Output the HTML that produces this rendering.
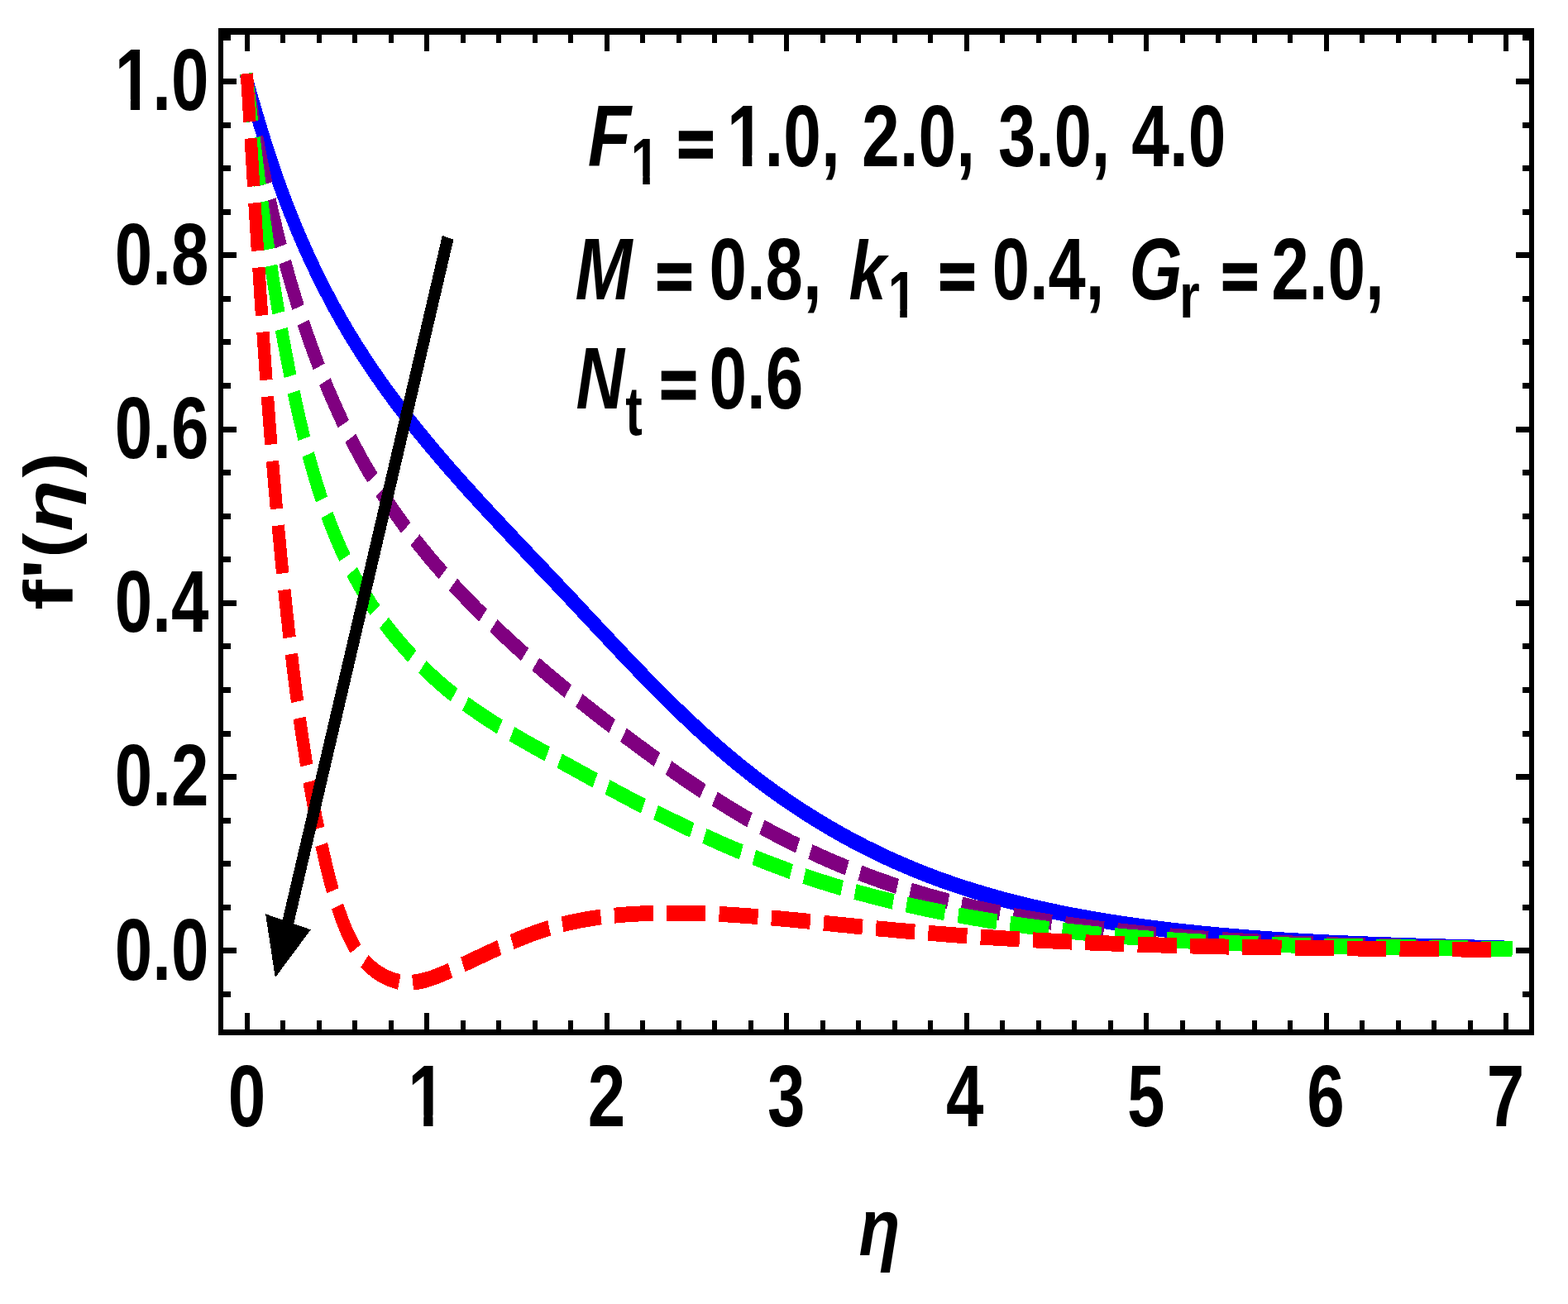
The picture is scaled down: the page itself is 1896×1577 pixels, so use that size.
<!DOCTYPE html>
<html lang="en">
<head>
<meta charset="utf-8">
<title>f'(η) versus η</title>
<style>
html,body{margin:0;padding:0;background:#fff}
body{width:1896px;height:1577px;overflow:hidden}
svg{display:block}
text{font-family:"Liberation Sans", sans-serif;font-weight:bold;fill:#000;font-kerning:none;white-space:pre}
.i{font-style:italic}
</style>
</head>
<body>
<svg width="1896" height="1577" viewBox="0 0 1896 1577">
<rect width="1896" height="1577" fill="#fff"/>
<g transform="scale(0.809,1)" fill="none" stroke-linejoin="round" shape-rendering="crispEdges">
<path d="M369.6,98.5 371.5,104 373.4,109.4 375.3,114.9 377.2,120.3 379.2,125.8 381.1,131.2 383.1,136.6 385.1,142.1 387.1,147.5 389.1,152.9 391.2,158.3 393.2,163.7 395.3,169.1 397.4,174.4 399.5,179.8 401.7,185.2 403.8,190.5 406,195.9 408.2,201.2 410.5,206.5 412.7,211.8 415,217.1 417.3,222.4 419.7,227.7 422.1,233 424.5,238.2 426.9,243.5 429.4,248.7 431.9,254 434.5,259.2 437.1,264.4 439.7,269.6 442.3,274.7 445,279.9 447.7,285 450.4,290.2 453.2,295.3 455.9,300.4 458.8,305.4 461.6,310.5 464.5,315.6 467.4,320.6 470.4,325.6 473.3,330.6 476.4,335.5 479.4,340.5 482.5,345.4 485.6,350.3 488.7,355.2 491.8,360.1 495,364.9 498.2,369.8 501.5,374.6 504.8,379.4 508.1,384.1 511.4,388.8 514.8,393.5 518.2,398.2 521.6,402.9 525.1,407.5 528.5,412.1 532.1,416.7 535.6,421.3 539.2,425.8 542.8,430.3 546.4,434.8 550,439.2 553.7,443.7 557.4,448.1 561.1,452.5 564.9,456.9 568.6,461.2 572.4,465.6 576.2,469.9 580.1,474.2 584,478.4 587.8,482.7 591.7,486.9 595.7,491.2 599.6,495.3 603.6,499.5 607.6,503.7 611.6,507.8 615.6,512 619.7,516.1 623.7,520.2 627.8,524.3 631.9,528.3 636,532.4 640.1,536.4 644.3,540.5 648.5,544.5 652.6,548.5 656.8,552.4 661,556.4 665.2,560.4 669.5,564.3 673.7,568.3 678,572.2 682.3,576.1 686.5,580 690.8,583.9 695.1,587.8 699.4,591.7 703.8,595.5 708.1,599.4 712.4,603.2 716.8,607.1 721.2,610.9 725.5,614.8 729.9,618.6 734.3,622.4 738.7,626.2 743.1,630 747.5,633.8 751.9,637.6 756.3,641.4 760.7,645.2 765.1,649 769.5,652.8 773.9,656.5 778.4,660.3 782.8,664.1 787.2,667.9 791.6,671.6 796.1,675.4 800.5,679.2 804.9,683 809.4,686.7 813.8,690.5 818.2,694.3 822.7,698 827.1,701.8 831.5,705.6 835.9,709.4 840.3,713.1 844.7,716.9 849.2,720.7 853.6,724.5 858,728.3 862.4,732.1 866.7,735.9 871.1,739.7 875.5,743.5 879.9,747.3 884.3,751.1 888.7,754.9 893.1,758.7 897.5,762.5 901.9,766.3 906.3,770 910.7,773.8 915.1,777.6 919.4,781.4 923.8,785.1 928.3,788.9 932.7,792.7 937.1,796.4 941.5,800.2 945.9,803.9 950.3,807.6 954.8,811.3 959.2,815 963.6,818.8 968.1,822.4 972.5,826.1 977,829.8 981.5,833.5 985.9,837.1 990.4,840.7 994.9,844.4 999.4,848 1003.9,851.6 1008.5,855.2 1013,858.7 1017.6,862.3 1022.1,865.8 1026.7,869.3 1031.3,872.9 1035.9,876.3 1040.5,879.8 1045.1,883.3 1049.7,886.7 1054.4,890.1 1059,893.5 1063.7,896.9 1068.4,900.3 1073.1,903.6 1077.8,906.9 1082.6,910.2 1087.3,913.5 1092.1,916.7 1096.9,920 1101.7,923.2 1106.5,926.3 1111.4,929.5 1116.2,932.6 1121.1,935.7 1126,938.8 1130.9,941.9 1135.9,944.9 1140.8,947.9 1145.8,950.9 1150.8,953.8 1155.8,956.8 1160.8,959.7 1165.8,962.6 1170.9,965.4 1176,968.2 1181.1,971 1186.2,973.8 1191.3,976.6 1196.4,979.3 1201.6,982 1206.7,984.6 1211.9,987.3 1217.1,989.9 1222.3,992.5 1227.5,995.1 1232.7,997.6 1238,1000.1 1243.2,1002.6 1248.5,1005 1253.8,1007.5 1259.1,1009.9 1264.4,1012.2 1269.7,1014.6 1275,1016.9 1280.4,1019.2 1285.7,1021.4 1291.1,1023.7 1296.5,1025.9 1301.9,1028 1307.3,1030.2 1312.7,1032.3 1318.1,1034.4 1323.5,1036.5 1328.9,1038.5 1334.4,1040.5 1339.8,1042.5 1345.3,1044.4 1350.8,1046.3 1356.2,1048.2 1361.7,1050.1 1367.2,1051.9 1372.7,1053.7 1378.2,1055.5 1383.7,1057.3 1389.3,1059 1394.8,1060.7 1400.3,1062.4 1405.9,1064 1411.4,1065.6 1417,1067.2 1422.6,1068.8 1428.1,1070.3 1433.7,1071.8 1439.3,1073.3 1444.9,1074.8 1450.5,1076.2 1456.1,1077.7 1461.7,1079 1467.3,1080.4 1473,1081.8 1478.6,1083.1 1484.2,1084.4 1489.9,1085.7 1495.5,1086.9 1501.2,1088.2 1506.8,1089.4 1512.5,1090.6 1518.2,1091.8 1523.8,1092.9 1529.5,1094.1 1535.2,1095.2 1540.9,1096.3 1546.6,1097.3 1552.3,1098.4 1558,1099.4 1563.7,1100.4 1569.4,1101.4 1575.1,1102.4 1580.8,1103.4 1586.5,1104.3 1592.2,1105.3 1598,1106.2 1603.7,1107.1 1609.4,1107.9 1615.1,1108.8 1620.9,1109.6 1626.6,1110.5 1632.4,1111.3 1638.1,1112.1 1643.8,1112.9 1649.6,1113.6 1655.3,1114.4 1661.1,1115.1 1666.8,1115.8 1672.6,1116.6 1678.4,1117.3 1684.1,1117.9 1689.9,1118.6 1695.6,1119.3 1701.4,1119.9 1707.2,1120.6 1712.9,1121.2 1718.7,1121.8 1724.5,1122.4 1730.2,1123 1736,1123.6 1741.8,1124.1 1747.5,1124.7 1753.3,1125.2 1759.1,1125.8 1764.8,1126.3 1770.6,1126.8 1776.4,1127.3 1782.2,1127.8 1787.9,1128.3 1793.7,1128.8 1799.5,1129.2 1805.3,1129.7 1811,1130.1 1816.8,1130.6 1822.6,1131 1828.4,1131.4 1834.1,1131.8 1839.9,1132.2 1845.7,1132.6 1851.5,1133 1857.3,1133.4 1863,1133.7 1868.8,1134.1 1874.6,1134.5 1880.4,1134.8 1886.2,1135.1 1891.9,1135.5 1897.7,1135.8 1903.5,1136.1 1909.3,1136.4 1915.1,1136.7 1920.9,1137 1926.6,1137.3 1932.4,1137.6 1938.2,1137.9 1944,1138.1 1949.8,1138.4 1955.6,1138.6 1961.4,1138.9 1967.1,1139.1 1972.9,1139.4 1978.7,1139.6 1984.5,1139.9 1990.3,1140.1 1996.1,1140.3 2001.9,1140.5 2007.7,1140.7 2013.5,1140.9 2019.2,1141.1 2025,1141.3 2030.8,1141.5 2036.6,1141.7 2042.4,1141.9 2048.2,1142.1 2054,1142.2 2059.8,1142.4 2065.6,1142.6 2071.4,1142.7 2077.2,1142.9 2082.9,1143.1 2088.7,1143.2 2094.5,1143.4 2100.3,1143.5 2106.1,1143.7 2111.9,1143.8 2117.7,1144 2123.5,1144.1 2129.3,1144.3 2135.1,1144.4 2140.9,1144.5 2146.7,1144.7 2152.5,1144.8 2158.3,1144.9 2164,1145.1 2169.8,1145.2 2175.6,1145.3 2181.4,1145.5 2187.2,1145.6 2193,1145.7 2198.8,1145.8 2204.6,1146 2210.4,1146.1 2216.2,1146.2 2222,1146.3 2227.8,1146.5 2233.6,1146.6 2239.3,1146.7 2245.1,1146.9 2250.9,1147" stroke="#0000ff" stroke-width="18.9" stroke-linecap="butt"/>
<path d="M369.6,98.5 370.7,104.2 371.9,110 373.1,115.7 374.2,121.5 375.5,127.2 376.7,133 377.9,138.7 379.2,144.5 380.4,150.3 381.7,156.1 383,161.8 384.4,167.6 385.7,173.4 387.1,179.2 388.5,185 389.9,190.7 391.3,196.5 392.7,202.3 394.2,208.1 395.7,213.9 397.2,219.7 398.7,225.4 400.2,231.2 401.8,237 403.4,242.8 405,248.5 406.6,254.3 408.3,260 410,265.8 411.7,271.5 413.4,277.3 415.1,283 416.9,288.8 418.7,294.5 420.5,300.2 422.4,305.9 424.3,311.6 426.2,317.3 428.1,323 430,328.6 432,334.3 434,340 436,345.6 438.1,351.2 440.2,356.9 442.3,362.5 444.4,368.1 446.6,373.6 448.8,379.2 451,384.8 453.3,390.3 455.6,395.8 457.9,401.3 460.2,406.8 462.6,412.3 465,417.8 467.4,423.2 469.9,428.7 472.4,434.1 474.9,439.5 477.5,444.9 480.1,450.2 482.7,455.6 485.3,460.9 488,466.2 490.7,471.5 493.5,476.7 496.3,482 499.1,487.2 502,492.4 504.9,497.6 507.8,502.7 510.7,507.9 513.7,513 516.8,518 519.8,523.1 522.9,528.1 526.1,533.1 529.3,538.1 532.5,543.1 535.7,548 539,552.9 542.3,557.8 545.7,562.6 549.1,567.5 552.6,572.2 556,577 559.6,581.7 563.1,586.4 566.7,591.1 570.3,595.8 574,600.4 577.7,605 581.5,609.5 585.3,614 589.1,618.5 593,623 596.9,627.4 600.8,631.8 604.8,636.2 608.8,640.6 612.9,644.9 616.9,649.2 621.1,653.4 625.2,657.7 629.4,661.9 633.6,666.1 637.8,670.2 642,674.4 646.3,678.5 650.6,682.6 655,686.6 659.4,690.7 663.7,694.7 668.2,698.7 672.6,702.7 677.1,706.6 681.5,710.5 686.1,714.4 690.6,718.3 695.1,722.2 699.7,726 704.3,729.8 708.9,733.6 713.5,737.4 718.2,741.1 722.8,744.9 727.5,748.6 732.2,752.3 736.9,755.9 741.6,759.6 746.4,763.2 751.1,766.9 755.9,770.5 760.7,774 765.4,777.6 770.2,781.2 775.1,784.7 779.9,788.2 784.7,791.7 789.6,795.2 794.4,798.7 799.3,802.1 804.2,805.6 809.1,809 814,812.4 818.9,815.8 823.8,819.2 828.8,822.5 833.7,825.9 838.7,829.2 843.6,832.5 848.6,835.8 853.6,839.1 858.6,842.4 863.6,845.7 868.6,848.9 873.6,852.2 878.6,855.4 883.6,858.6 888.7,861.8 893.7,865 898.8,868.2 903.8,871.4 908.9,874.5 914,877.7 919,880.8 924.1,883.9 929.2,887 934.3,890.2 939.4,893.3 944.5,896.3 949.6,899.4 954.7,902.5 959.8,905.5 964.9,908.6 970.1,911.6 975.2,914.6 980.4,917.6 985.5,920.6 990.7,923.6 995.8,926.6 1001,929.5 1006.2,932.4 1011.3,935.4 1016.5,938.3 1021.7,941.2 1026.9,944 1032.2,946.9 1037.4,949.7 1042.6,952.5 1047.8,955.3 1053.1,958.1 1058.4,960.9 1063.6,963.6 1068.9,966.4 1074.2,969.1 1079.5,971.8 1084.8,974.4 1090.1,977.1 1095.4,979.7 1100.7,982.3 1106.1,984.9 1111.4,987.5 1116.8,990 1122.2,992.5 1127.6,995 1133,997.5 1138.4,999.9 1143.8,1002.3 1149.2,1004.7 1154.7,1007.1 1160.1,1009.4 1165.6,1011.8 1171.1,1014.1 1176.5,1016.3 1182,1018.6 1187.6,1020.8 1193.1,1023 1198.6,1025.2 1204.1,1027.3 1209.7,1029.4 1215.2,1031.5 1220.8,1033.6 1226.4,1035.7 1232,1037.7 1237.6,1039.7 1243.2,1041.7 1248.8,1043.6 1254.4,1045.5 1260,1047.4 1265.7,1049.3 1271.3,1051.2 1277,1053 1282.6,1054.8 1288.3,1056.6 1294,1058.3 1299.7,1060.1 1305.4,1061.8 1311.1,1063.4 1316.8,1065.1 1322.5,1066.7 1328.2,1068.3 1334,1069.9 1339.7,1071.5 1345.5,1073 1351.2,1074.5 1357,1076 1362.7,1077.4 1368.5,1078.8 1374.3,1080.3 1380.1,1081.6 1385.9,1083 1391.7,1084.3 1397.5,1085.6 1403.3,1086.9 1409.1,1088.2 1414.9,1089.4 1420.7,1090.6 1426.6,1091.8 1432.4,1093 1438.2,1094.2 1444.1,1095.3 1449.9,1096.4 1455.8,1097.5 1461.6,1098.6 1467.5,1099.6 1473.3,1100.6 1479.2,1101.6 1485.1,1102.6 1491,1103.6 1496.8,1104.6 1502.7,1105.5 1508.6,1106.4 1514.5,1107.3 1520.4,1108.2 1526.3,1109.1 1532.2,1109.9 1538.1,1110.7 1544,1111.6 1549.9,1112.3 1555.8,1113.1 1561.7,1113.9 1567.7,1114.7 1573.6,1115.4 1579.5,1116.1 1585.4,1116.8 1591.3,1117.5 1597.3,1118.2 1603.2,1118.9 1609.1,1119.5 1615,1120.2 1621,1120.8 1626.9,1121.4 1632.8,1122 1638.8,1122.6 1644.7,1123.2 1650.6,1123.8 1656.6,1124.3 1662.5,1124.9 1668.4,1125.4 1674.4,1125.9 1680.3,1126.5 1686.2,1127 1692.2,1127.5 1698.1,1128 1704,1128.4 1710,1128.9 1715.9,1129.4 1721.9,1129.8 1727.8,1130.3 1733.7,1130.7 1739.7,1131.1 1745.6,1131.5 1751.5,1132 1757.5,1132.4 1763.4,1132.7 1769.3,1133.1 1775.3,1133.5 1781.2,1133.9 1787.2,1134.2 1793.1,1134.6 1799,1134.9 1805,1135.3 1810.9,1135.6 1816.8,1135.9 1822.8,1136.3 1828.7,1136.6 1834.7,1136.9 1840.6,1137.2 1846.5,1137.4 1852.5,1137.7 1858.4,1138 1864.3,1138.3 1870.3,1138.5 1876.2,1138.8 1882.2,1139 1888.1,1139.3 1894,1139.5 1900,1139.8 1905.9,1140 1911.9,1140.2 1917.8,1140.4 1923.7,1140.6 1929.7,1140.9 1935.6,1141.1 1941.6,1141.2 1947.5,1141.4 1953.5,1141.6 1959.4,1141.8 1965.3,1142 1971.3,1142.2 1977.2,1142.3 1983.2,1142.5 1989.1,1142.7 1995.1,1142.8 2001,1143 2006.9,1143.1 2012.9,1143.3 2018.8,1143.4 2024.8,1143.5 2030.7,1143.7 2036.7,1143.8 2042.6,1143.9 2048.6,1144.1 2054.5,1144.2 2060.5,1144.3 2066.4,1144.4 2072.3,1144.5 2078.3,1144.6 2084.2,1144.7 2090.2,1144.9 2096.1,1145 2102.1,1145.1 2108,1145.2 2114,1145.3 2119.9,1145.4 2125.9,1145.5 2131.8,1145.6 2137.8,1145.6 2143.7,1145.7 2149.7,1145.8 2155.6,1145.9 2161.6,1146 2167.5,1146.1 2173.5,1146.2 2179.5,1146.3 2185.4,1146.4 2191.4,1146.4 2197.3,1146.5 2203.3,1146.6 2209.2,1146.7 2215.2,1146.8 2221.1,1146.9 2227.1,1147 2233.1,1147 2239,1147.1 2245,1147.2 2250.9,1147.3" stroke="#800080" stroke-width="18.9" stroke-linecap="square" stroke-dasharray="39.35 39.0"/>
<path d="M369.6,98.5 370.5,104.7 371.4,110.8 372.2,117 373.1,123.2 374,129.3 374.9,135.5 375.8,141.6 376.7,147.7 377.6,153.8 378.5,160 379.4,166.1 380.3,172.2 381.2,178.3 382.2,184.4 383.1,190.5 384,196.5 384.9,202.6 385.9,208.7 386.8,214.8 387.8,220.8 388.8,226.9 389.7,233 390.7,239 391.7,245.1 392.7,251.1 393.7,257.1 394.7,263.2 395.7,269.2 396.8,275.2 397.8,281.3 398.9,287.3 399.9,293.3 401,299.3 402.1,305.4 403.2,311.4 404.3,317.4 405.4,323.4 406.6,329.4 407.7,335.4 408.9,341.4 410.1,347.4 411.3,353.4 412.5,359.4 413.7,365.4 415,371.4 416.2,377.4 417.5,383.4 418.8,389.4 420.1,395.3 421.4,401.3 422.7,407.3 424.1,413.3 425.5,419.3 426.9,425.3 428.3,431.3 429.7,437.3 431.1,443.3 432.6,449.3 434.1,455.2 435.6,461.2 437.1,467.2 438.7,473.2 440.3,479.2 441.9,485.2 443.5,491.2 445.1,497.2 446.8,503.2 448.5,509.2 450.2,515.1 452,521.1 453.8,527.1 455.6,533 457.5,538.9 459.3,544.9 461.3,550.8 463.2,556.7 465.3,562.5 467.3,568.4 469.4,574.3 471.5,580.1 473.7,585.9 475.9,591.7 478.2,597.4 480.5,603.1 482.9,608.8 485.3,614.5 487.8,620.2 490.3,625.8 492.9,631.4 495.5,636.9 498.2,642.4 501,647.9 503.8,653.4 506.7,658.8 509.6,664.1 512.6,669.5 515.7,674.8 518.8,680 522,685.2 525.3,690.4 528.7,695.5 532.1,700.5 535.6,705.5 539.1,710.5 542.7,715.4 546.4,720.3 550.2,725.1 554,729.9 557.9,734.6 561.8,739.3 565.8,743.9 569.9,748.5 574,753 578.2,757.5 582.4,761.9 586.7,766.3 591.1,770.6 595.5,774.9 599.9,779.1 604.4,783.3 609,787.4 613.6,791.5 618.3,795.5 623,799.5 627.7,803.4 632.5,807.3 637.4,811.1 642.2,814.9 647.2,818.6 652.1,822.2 657.1,825.8 662.2,829.4 667.3,832.9 672.4,836.3 677.6,839.7 682.7,843 688,846.3 693.2,849.5 698.5,852.7 703.8,855.8 709.2,858.9 714.6,861.9 720,864.9 725.4,867.8 730.9,870.7 736.3,873.5 741.8,876.3 747.4,879.1 752.9,881.8 758.4,884.5 764,887.2 769.6,889.8 775.2,892.4 780.8,895 786.4,897.6 792,900.2 797.6,902.7 803.3,905.3 808.9,907.8 814.5,910.3 820.2,912.8 825.8,915.3 831.5,917.8 837.1,920.3 842.7,922.9 848.3,925.4 854,927.9 859.6,930.4 865.2,932.9 870.8,935.4 876.4,937.9 882,940.4 887.6,942.9 893.3,945.4 898.9,947.9 904.5,950.3 910.1,952.8 915.8,955.3 921.4,957.7 927,960.1 932.7,962.6 938.3,965 944,967.4 949.6,969.8 955.3,972.2 961,974.5 966.6,976.9 972.3,979.2 978,981.6 983.7,983.9 989.4,986.2 995.1,988.5 1000.8,990.8 1006.5,993.1 1012.3,995.3 1018,997.6 1023.7,999.8 1029.5,1002 1035.2,1004.2 1041,1006.4 1046.7,1008.6 1052.5,1010.7 1058.3,1012.9 1064.1,1015 1069.8,1017.1 1075.6,1019.2 1081.4,1021.3 1087.3,1023.3 1093.1,1025.3 1098.9,1027.4 1104.7,1029.3 1110.5,1031.3 1116.4,1033.3 1122.2,1035.2 1128.1,1037.1 1133.9,1039 1139.8,1040.9 1145.7,1042.8 1151.5,1044.6 1157.4,1046.4 1163.3,1048.2 1169.2,1050 1175.1,1051.8 1181,1053.5 1186.9,1055.2 1192.9,1056.9 1198.8,1058.5 1204.7,1060.2 1210.7,1061.8 1216.6,1063.4 1222.6,1065 1228.5,1066.5 1234.5,1068 1240.5,1069.5 1246.4,1071 1252.4,1072.5 1258.4,1073.9 1264.4,1075.3 1270.4,1076.7 1276.4,1078.1 1282.4,1079.4 1288.4,1080.7 1294.4,1082 1300.5,1083.3 1306.5,1084.6 1312.5,1085.8 1318.5,1087.1 1324.6,1088.3 1330.6,1089.5 1336.7,1090.6 1342.7,1091.8 1348.8,1092.9 1354.8,1094 1360.9,1095.1 1366.9,1096.2 1373,1097.3 1379.1,1098.3 1385.2,1099.4 1391.2,1100.4 1397.3,1101.4 1403.4,1102.4 1409.5,1103.3 1415.5,1104.3 1421.6,1105.2 1427.7,1106.1 1433.8,1107 1439.9,1107.9 1446,1108.8 1452.1,1109.7 1458.2,1110.5 1464.3,1111.3 1470.4,1112.2 1476.5,1113 1482.6,1113.8 1488.7,1114.5 1494.8,1115.3 1500.9,1116 1507,1116.8 1513.1,1117.5 1519.2,1118.2 1525.3,1118.9 1531.4,1119.6 1537.6,1120.3 1543.7,1120.9 1549.8,1121.6 1555.9,1122.2 1562,1122.8 1568.1,1123.4 1574.3,1124 1580.4,1124.6 1586.5,1125.2 1592.6,1125.8 1598.8,1126.3 1604.9,1126.9 1611,1127.4 1617.2,1127.9 1623.3,1128.4 1629.4,1128.9 1635.6,1129.4 1641.7,1129.9 1647.8,1130.4 1654,1130.8 1660.1,1131.3 1666.2,1131.7 1672.4,1132.1 1678.5,1132.6 1684.7,1133 1690.8,1133.4 1696.9,1133.8 1703.1,1134.1 1709.2,1134.5 1715.4,1134.9 1721.5,1135.2 1727.7,1135.6 1733.8,1135.9 1740,1136.2 1746.1,1136.6 1752.3,1136.9 1758.4,1137.2 1764.6,1137.5 1770.7,1137.8 1776.9,1138.1 1783,1138.3 1789.2,1138.6 1795.3,1138.9 1801.5,1139.1 1807.6,1139.4 1813.8,1139.6 1820,1139.8 1826.1,1140.1 1832.3,1140.3 1838.4,1140.5 1844.6,1140.7 1850.7,1140.9 1856.9,1141.1 1863.1,1141.3 1869.2,1141.5 1875.4,1141.7 1881.5,1141.8 1887.7,1142 1893.9,1142.2 1900,1142.3 1906.2,1142.5 1912.3,1142.6 1918.5,1142.8 1924.7,1142.9 1930.8,1143.1 1937,1143.2 1943.1,1143.3 1949.3,1143.5 1955.5,1143.6 1961.6,1143.7 1967.8,1143.8 1974,1143.9 1980.1,1144 1986.3,1144.1 1992.4,1144.2 1998.6,1144.3 2004.8,1144.4 2010.9,1144.5 2017.1,1144.6 2023.2,1144.7 2029.4,1144.8 2035.6,1144.9 2041.7,1145 2047.9,1145.1 2054,1145.1 2060.2,1145.2 2066.4,1145.3 2072.5,1145.4 2078.7,1145.4 2084.8,1145.5 2091,1145.6 2097.2,1145.7 2103.3,1145.7 2109.5,1145.8 2115.6,1145.9 2121.8,1145.9 2127.9,1146 2134.1,1146.1 2140.3,1146.2 2146.4,1146.2 2152.6,1146.3 2158.7,1146.4 2164.9,1146.4 2171,1146.5 2177.2,1146.6 2183.3,1146.7 2189.5,1146.8 2195.6,1146.8 2201.8,1146.9 2207.9,1147 2214.1,1147.1 2220.2,1147.2 2226.3,1147.3 2232.5,1147.3 2238.6,1147.4 2244.8,1147.5 2250.9,1147.6" stroke="#00ff00" stroke-width="18.9" stroke-linecap="square" stroke-dasharray="39.35 39.0"/>
<path d="M369.6,98.5 370.1,105.5 370.7,112.6 371.2,119.6 371.7,126.6 372.3,133.7 372.8,140.7 373.3,147.7 373.8,154.8 374.4,161.8 374.9,168.8 375.4,175.9 375.9,182.9 376.5,189.9 377,196.9 377.5,204 378,211 378.6,218 379.1,225.1 379.6,232.1 380.2,239.1 380.7,246.2 381.2,253.2 381.8,260.2 382.3,267.2 382.8,274.3 383.4,281.3 383.9,288.3 384.4,295.3 385,302.4 385.5,309.4 386.1,316.4 386.6,323.5 387.2,330.5 387.7,337.5 388.3,344.5 388.9,351.5 389.4,358.6 390,365.6 390.6,372.6 391.1,379.6 391.7,386.7 392.3,393.7 392.9,400.7 393.5,407.7 394.1,414.7 394.7,421.8 395.3,428.8 395.9,435.8 396.5,442.8 397.1,449.8 397.7,456.9 398.4,463.9 399,470.9 399.6,477.9 400.3,484.9 400.9,491.9 401.6,499 402.2,506 402.9,513 403.6,520 404.2,527 404.9,534 405.6,541 406.3,548.1 407,555.1 407.7,562.1 408.5,569.1 409.2,576.1 409.9,583.1 410.7,590.1 411.4,597.1 412.2,604.1 412.9,611.1 413.7,618.1 414.5,625.1 415.2,632.2 416,639.2 416.8,646.2 417.7,653.2 418.5,660.2 419.3,667.2 420.1,674.2 421,681.2 421.8,688.2 422.7,695.2 423.6,702.2 424.5,709.2 425.4,716.2 426.3,723.2 427.2,730.2 428.1,737.1 429,744.1 430,751.1 430.9,758.1 431.9,765.1 432.9,772.1 433.9,779.1 434.9,786.1 435.9,793.1 436.9,800.1 437.9,807.1 439,814 440.1,821 441.1,828 442.2,835 443.4,841.9 444.5,848.9 445.6,855.9 446.8,862.8 448,869.8 449.2,876.7 450.4,883.7 451.7,890.6 453,897.5 454.3,904.4 455.6,911.3 456.9,918.3 458.3,925.1 459.7,932 461.1,938.9 462.6,945.8 464,952.7 465.5,959.5 467.1,966.4 468.6,973.2 470.2,980 471.8,986.8 473.5,993.6 475.2,1000.4 476.9,1007.2 478.6,1014 480.4,1020.7 482.2,1027.5 484.1,1034.2 486,1040.9 487.9,1047.6 490,1054.3 492.1,1061 494.2,1067.7 496.5,1074.4 498.8,1081.1 501.3,1087.8 503.8,1094.4 506.5,1101.1 509.3,1107.7 512.3,1114.3 515.4,1120.8 518.7,1127.2 522.3,1133.4 526.1,1139.4 530.1,1145.3 534.4,1150.9 539,1156.2 544,1161.2 549.3,1165.8 554.9,1170.1 560.8,1174 567,1177.5 573.4,1180.5 580,1183.1 586.7,1185.1 593.5,1186.7 600.5,1187.7 607.4,1188.2 614.4,1188.1 621.4,1187.6 628.3,1186.7 635.2,1185.3 642,1183.7 648.9,1181.8 655.7,1179.6 662.5,1177.4 669.2,1175 675.9,1172.5 682.6,1170 689.3,1167.5 696,1165 702.6,1162.5 709.2,1160 715.9,1157.4 722.5,1154.9 729.1,1152.4 735.7,1149.9 742.3,1147.5 748.9,1145 755.4,1142.6 762.1,1140.3 768.7,1138 775.3,1135.7 781.9,1133.6 788.6,1131.4 795.3,1129.4 802,1127.4 808.7,1125.5 815.4,1123.7 822.2,1122 829,1120.4 835.9,1118.9 842.7,1117.5 849.6,1116.1 856.5,1114.9 863.5,1113.7 870.4,1112.6 877.4,1111.6 884.4,1110.7 891.4,1109.8 898.5,1109.1 905.5,1108.3 912.6,1107.7 919.6,1107.1 926.7,1106.6 933.8,1106.1 940.9,1105.7 948,1105.4 955.1,1105 962.2,1104.8 969.3,1104.6 976.4,1104.4 983.5,1104.2 990.6,1104.1 997.6,1104.1 1004.7,1104.1 1011.8,1104.1 1018.9,1104.1 1025.9,1104.2 1033,1104.3 1040.1,1104.4 1047.1,1104.6 1054.2,1104.8 1061.2,1105 1068.3,1105.2 1075.3,1105.5 1082.4,1105.8 1089.4,1106.1 1096.4,1106.5 1103.5,1106.9 1110.5,1107.3 1117.6,1107.7 1124.6,1108.1 1131.6,1108.5 1138.6,1109 1145.7,1109.5 1152.7,1110 1159.7,1110.5 1166.7,1111 1173.8,1111.5 1180.8,1112.1 1187.8,1112.6 1194.8,1113.2 1201.8,1113.7 1208.8,1114.3 1215.9,1114.9 1222.9,1115.5 1229.9,1116.1 1236.9,1116.7 1243.9,1117.3 1250.9,1117.9 1257.9,1118.4 1265,1119 1272,1119.6 1279,1120.2 1286,1120.8 1293,1121.4 1300,1121.9 1307,1122.5 1314.1,1123.1 1321.1,1123.6 1328.1,1124.1 1335.1,1124.7 1342.1,1125.2 1349.2,1125.7 1356.2,1126.2 1363.2,1126.7 1370.2,1127.2 1377.3,1127.7 1384.3,1128.1 1391.3,1128.6 1398.3,1129 1405.4,1129.5 1412.4,1129.9 1419.4,1130.4 1426.5,1130.8 1433.5,1131.2 1440.5,1131.6 1447.6,1132 1454.6,1132.4 1461.6,1132.8 1468.7,1133.2 1475.7,1133.5 1482.7,1133.9 1489.8,1134.3 1496.8,1134.6 1503.8,1135 1510.9,1135.3 1517.9,1135.6 1525,1136 1532,1136.3 1539,1136.6 1546.1,1136.9 1553.1,1137.2 1560.2,1137.5 1567.2,1137.8 1574.3,1138.1 1581.3,1138.3 1588.3,1138.6 1595.4,1138.9 1602.4,1139.1 1609.5,1139.4 1616.5,1139.6 1623.6,1139.9 1630.6,1140.1 1637.7,1140.4 1644.7,1140.6 1651.8,1140.8 1658.8,1141 1665.9,1141.2 1672.9,1141.4 1680,1141.6 1687,1141.8 1694.1,1142 1701.1,1142.2 1708.2,1142.4 1715.2,1142.6 1722.3,1142.7 1729.3,1142.9 1736.4,1143.1 1743.4,1143.2 1750.5,1143.4 1757.5,1143.5 1764.6,1143.7 1771.6,1143.8 1778.7,1144 1785.7,1144.1 1792.8,1144.2 1799.8,1144.4 1806.9,1144.5 1813.9,1144.6 1821,1144.7 1828,1144.9 1835.1,1145 1842.1,1145.1 1849.2,1145.2 1856.2,1145.3 1863.3,1145.4 1870.4,1145.5 1877.4,1145.6 1884.5,1145.7 1891.5,1145.8 1898.6,1145.8 1905.6,1145.9 1912.7,1146 1919.7,1146.1 1926.8,1146.2 1933.8,1146.2 1940.9,1146.3 1947.9,1146.4 1955,1146.5 1962,1146.5 1969.1,1146.6 1976.1,1146.6 1983.2,1146.7 1990.3,1146.8 1997.3,1146.8 2004.4,1146.9 2011.4,1146.9 2018.5,1147 2025.5,1147 2032.6,1147.1 2039.6,1147.1 2046.7,1147.2 2053.7,1147.2 2060.8,1147.3 2067.8,1147.3 2074.9,1147.4 2081.9,1147.4 2088.9,1147.5 2096,1147.5 2103,1147.6 2110.1,1147.6 2117.1,1147.6 2124.2,1147.7 2131.2,1147.7 2138.3,1147.8 2145.3,1147.8 2152.4,1147.9 2159.4,1147.9 2166.4,1148 2173.5,1148 2180.5,1148 2187.6,1148.1 2194.6,1148.1 2201.7,1148.2 2208.7,1148.2 2215.7,1148.3 2222.8,1148.3 2229.8,1148.4 2236.8,1148.4 2243.9,1148.5 2250.9,1148.5" stroke="#ff0000" stroke-width="18.9" stroke-linecap="square" stroke-dasharray="39.35 39.0"/>
<path d="M669.5,287.3L430.7,1114.8" stroke="#000" stroke-width="17.5" stroke-linecap="butt"/>
<path d="M396.9,1105.3L464.5,1124.3L411.4,1182.2Z" fill="#000" stroke="none"/>
</g>
<g fill="#000" shape-rendering="crispEdges">
<path fill-rule="evenodd" d="M264 34H1855V1252H264Z M270 42H1849V1245H270Z"/>
<path d="M296 42h6v20h-6ZM296 1225h6v20h-6ZM339 42h6v10h-6ZM339 1234h6v11h-6ZM383 42h6v10h-6ZM383 1234h6v11h-6ZM426 42h6v10h-6ZM426 1234h6v11h-6ZM470 42h6v10h-6ZM470 1234h6v11h-6ZM513 42h6v20h-6ZM513 1225h6v20h-6ZM557 42h6v10h-6ZM557 1234h6v11h-6ZM600 42h6v10h-6ZM600 1234h6v11h-6ZM644 42h6v10h-6ZM644 1234h6v11h-6ZM687 42h6v10h-6ZM687 1234h6v11h-6ZM731 42h6v20h-6ZM731 1225h6v20h-6ZM774 42h6v10h-6ZM774 1234h6v11h-6ZM818 42h6v10h-6ZM818 1234h6v11h-6ZM861 42h6v10h-6ZM861 1234h6v11h-6ZM905 42h6v10h-6ZM905 1234h6v11h-6ZM948 42h6v20h-6ZM948 1225h6v20h-6ZM992 42h6v10h-6ZM992 1234h6v11h-6ZM1035 42h6v10h-6ZM1035 1234h6v11h-6ZM1079 42h6v10h-6ZM1079 1234h6v11h-6ZM1122 42h6v10h-6ZM1122 1234h6v11h-6ZM1166 42h6v20h-6ZM1166 1225h6v20h-6ZM1209 42h6v10h-6ZM1209 1234h6v11h-6ZM1253 42h6v10h-6ZM1253 1234h6v11h-6ZM1296 42h6v10h-6ZM1296 1234h6v11h-6ZM1340 42h6v10h-6ZM1340 1234h6v11h-6ZM1383 42h6v20h-6ZM1383 1225h6v20h-6ZM1427 42h6v10h-6ZM1427 1234h6v11h-6ZM1470 42h6v10h-6ZM1470 1234h6v11h-6ZM1514 42h6v10h-6ZM1514 1234h6v11h-6ZM1557 42h6v10h-6ZM1557 1234h6v11h-6ZM1601 42h6v20h-6ZM1601 1225h6v20h-6ZM1644 42h6v10h-6ZM1644 1234h6v11h-6ZM1688 42h6v10h-6ZM1688 1234h6v11h-6ZM1731 42h6v10h-6ZM1731 1234h6v11h-6ZM1775 42h6v10h-6ZM1775 1234h6v11h-6ZM1818 42h6v20h-6ZM1818 1225h6v20h-6ZM270 1199h9v7h-9ZM1841 1199h8v7h-8ZM270 1146h16v7h-16ZM1833 1146h16v7h-16ZM270 1094h9v7h-9ZM1841 1094h8v7h-8ZM270 1041h9v7h-9ZM1841 1041h8v7h-8ZM270 989h9v7h-9ZM1841 989h8v7h-8ZM270 936h16v7h-16ZM1833 936h16v7h-16ZM270 884h9v7h-9ZM1841 884h8v7h-8ZM270 831h9v7h-9ZM1841 831h8v7h-8ZM270 778h9v7h-9ZM1841 778h8v7h-8ZM270 726h16v7h-16ZM1833 726h16v7h-16ZM270 673h9v7h-9ZM1841 673h8v7h-8ZM270 621h9v7h-9ZM1841 621h8v7h-8ZM270 568h9v7h-9ZM1841 568h8v7h-8ZM270 516h16v7h-16ZM1833 516h16v7h-16ZM270 463h9v7h-9ZM1841 463h8v7h-8ZM270 410h9v7h-9ZM1841 410h8v7h-8ZM270 358h9v7h-9ZM1841 358h8v7h-8ZM270 305h16v7h-16ZM1833 305h16v7h-16ZM270 253h9v7h-9ZM1841 253h8v7h-8ZM270 200h9v7h-9ZM1841 200h8v7h-8ZM270 148h9v7h-9ZM1841 148h8v7h-8ZM270 95h16v7h-16ZM1833 95h16v7h-16ZM270 42h9v7h-9ZM1841 42h8v7h-8Z"/>
</g>
<g>
<text transform="translate(138.77,133.37) scale(0.7748,1)" font-size="105.5">1.0</text>
<text transform="translate(138.77,343.65) scale(0.7748,1)" font-size="105.5">0.8</text>
<text transform="translate(138.77,553.93) scale(0.7748,1)" font-size="105.5">0.6</text>
<text transform="translate(138.77,764.21) scale(0.7748,1)" font-size="105.5">0.4</text>
<text transform="translate(138.77,974.49) scale(0.7748,1)" font-size="105.5">0.2</text>
<text transform="translate(138.77,1184.77) scale(0.7748,1)" font-size="105.5">0.0</text>
<text transform="translate(275.77,1362) scale(0.7748,1)" font-size="105.5">0</text>
<text transform="translate(493.2,1362) scale(0.7748,1)" font-size="105.5">1</text>
<text transform="translate(710.63,1362) scale(0.7748,1)" font-size="105.5">2</text>
<text transform="translate(928.06,1362) scale(0.7748,1)" font-size="105.5">3</text>
<text transform="translate(1144.09,1362) scale(0.7748,1)" font-size="105.5">4</text>
<text transform="translate(1362.92,1362) scale(0.7748,1)" font-size="105.5">5</text>
<text transform="translate(1580.35,1362) scale(0.7748,1)" font-size="105.5">6</text>
<text transform="translate(1797.78,1362) scale(0.7748,1)" font-size="105.5">7</text>
<text transform="translate(1038.52,1519.39) scale(0.8227,1)" font-size="99.31" class="i">η</text>
<text transform="translate(88,737.89) rotate(-90) scale(1.3313,1)" font-size="82.94">f</text><text transform="translate(87.36,700.75) rotate(-90) scale(1.2495,1)" font-size="84.97">'</text><text transform="translate(87.91,674.58) rotate(-90) scale(1.0867,1)" font-size="82.82">(</text><text transform="translate(87.33,642.84) rotate(-90) scale(1.2629,1)" font-size="80.79" class="i">η</text><text transform="translate(87.91,577.39) rotate(-90) scale(1.0867,1)" font-size="82.82">)</text>
<text transform="translate(710.69,201.1) scale(0.818,1)" font-size="104.8" class="i">F</text><text transform="translate(762.79,222.9) scale(0.7783,1)" font-size="79.8">1</text>
<text transform="translate(819.24,200.65) scale(0.9418,1)" font-size="80.51" stroke="#000" stroke-width="3.37" stroke-linejoin="miter">=</text>
<text transform="translate(878.89,201.17) scale(0.7778,1)" font-size="105.5">1.0,</text>
<text transform="translate(1041.95,201.17) scale(0.7788,1)" font-size="105.5">2.0,</text>
<text transform="translate(1207.04,201.02) scale(0.7691,1)" font-size="105.5">3.0,</text>
<text transform="translate(1368.36,201.17) scale(0.7781,1)" font-size="105.5">4.0</text>
<text transform="translate(695.44,362.2) scale(0.7893,1)" font-size="104.94" class="i">M</text>
<text transform="translate(793.53,361.23) scale(0.949,1)" font-size="79.4" stroke="#000" stroke-width="3.49" stroke-linejoin="miter">=</text>
<text transform="translate(857.58,362.27) scale(0.7728,1)" font-size="105.5">0.8,</text>
<text transform="translate(1026.51,362.2) scale(0.8142,1)" font-size="99.64" class="i">k</text><text transform="translate(1073.66,383.9) scale(0.7851,1)" font-size="79.65">1</text>
<text transform="translate(1135.53,361.23) scale(0.949,1)" font-size="79.4" stroke="#000" stroke-width="3.49" stroke-linejoin="miter">=</text>
<text transform="translate(1199.79,362.27) scale(0.7702,1)" font-size="105.5">0.4,</text>
<text transform="translate(1365.49,362.22) scale(0.7797,1)" font-size="105.44" class="i">G</text><text transform="translate(1425.91,383.9) scale(0.846,1)" font-size="75.2">r</text>
<text transform="translate(1477.33,361.23) scale(0.9513,1)" font-size="79.4" stroke="#000" stroke-width="3.49" stroke-linejoin="miter">=</text>
<text transform="translate(1537.16,362.27) scale(0.7759,1)" font-size="105.5">2.0,</text>
<text transform="translate(696.48,493.9) scale(0.7724,1)" font-size="104.94" class="i">N</text><text transform="translate(756.25,526.27) scale(0.7428,1)" font-size="82.89">t</text>
<text transform="translate(798.06,494.19) scale(0.9323,1)" font-size="82.74" stroke="#000" stroke-width="3.13" stroke-linejoin="miter">=</text>
<text transform="translate(857.56,494.07) scale(0.7759,1)" font-size="105.5">0.6</text>
</g>
<path fill="#fff" d="M142.76 119.98H157.85V135.37H142.76ZM169.06 119.98H183.07V135.37H169.06ZM497.19 1348.61H512.28V1364H497.19ZM523.49 1348.61H537.5V1364H523.49ZM765.82 212.77H777.28V224.9H765.82ZM785.8 212.77H796.45V224.9H785.8ZM882.9 187.78H898.05V203.17H882.9ZM909.31 187.78H923.37V203.17H909.31ZM1076.71 373.79H1088.26V385.9H1076.71ZM1096.84 373.79H1107.55V385.9H1096.84Z"/>
</svg>
</body>
</html>
